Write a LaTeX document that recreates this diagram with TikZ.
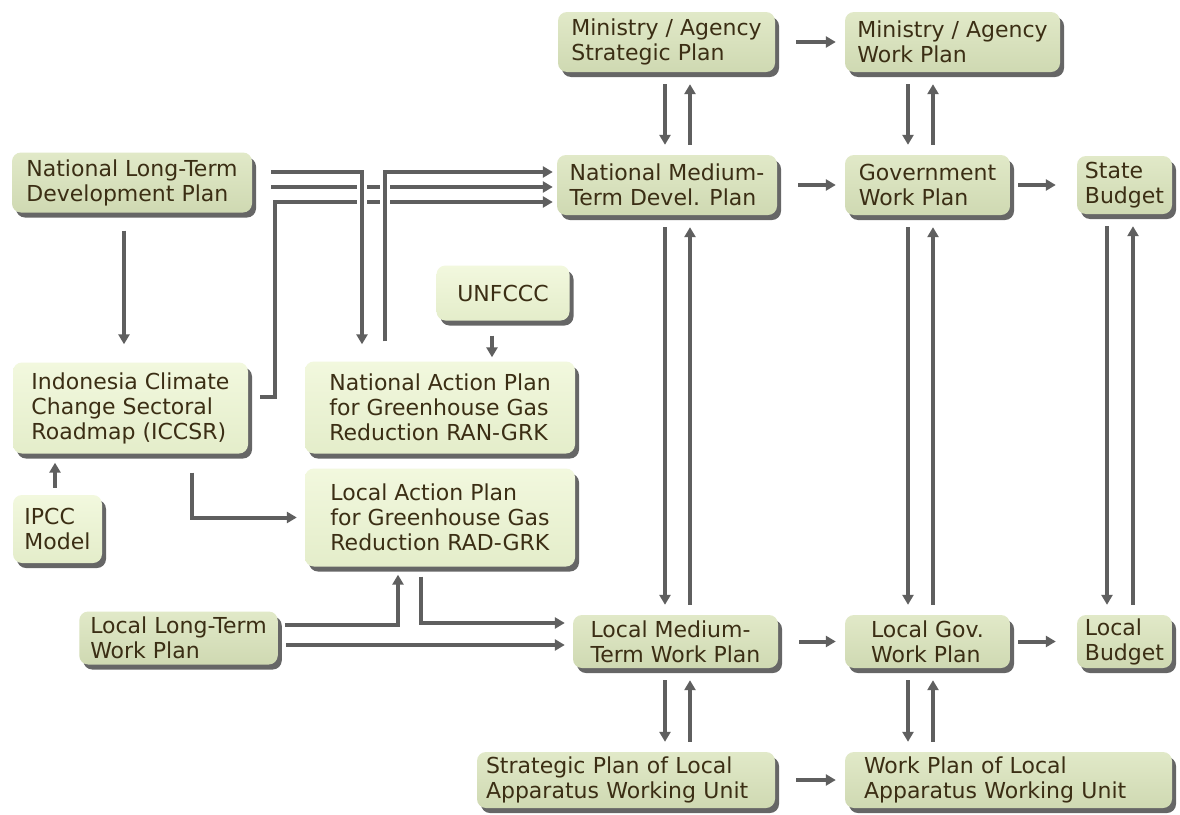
\documentclass[tikz,border=0pt]{standalone}
\usepackage{fontspec}
\setmainfont{DejaVu Sans}
\usepackage{xcolor}
\usetikzlibrary{arrows.meta,shadows}

\definecolor{boxtop}{HTML}{E1E9C8}
\definecolor{boxbot}{HTML}{CFD9B2}
\definecolor{lbtop}{HTML}{F2F8DE}
\definecolor{lbbot}{HTML}{E4EDCA}
\definecolor{ink}{HTML}{3B2E14}
\definecolor{arrowgray}{HTML}{5F5F5F}

\begin{document}
\begin{tikzpicture}[
  x=1pt, y=-1pt,
  box/.style={rounded corners=9pt, top color=boxtop, bottom color=boxbot, align=left, text=ink, inner xsep=11pt, font=\fontsize{22}{25}\selectfont, drop shadow={shadow xshift=4pt, shadow yshift=-5pt, fill=black!70, opacity=.85}},
  lbox/.style={box, top color=lbtop, bottom color=lbbot},
  arrow/.style={-{Triangle[length=10pt,width=11pt]}, line width=4pt, draw=arrowgray},
  bridge/.style={arrow, preaction={draw=white, line width=10pt, arrows=-}}
]
\fill[white] (0,0) rectangle (1180,814);
\useasboundingbox (0,0) rectangle (1180,814);

% national level
\node[box, minimum width=217pt, minimum height=60pt] (msp) at (666.5,42) {Ministry / Agency\\Strategic Plan};
\node[box, minimum width=215pt, minimum height=60pt] (mwp) at (952.5,42) {Ministry / Agency\\Work Plan};
\node[box, minimum width=220pt, minimum height=60pt] (nmtdp) at (667,185) {National Medium-\\Term Devel. Plan};
\node[box, minimum width=165pt, minimum height=60pt] (gwp) at (927.5,185) {Government\\Work Plan};
\node[box, inner xsep=7pt, minimum width=95pt, minimum height=58pt] (state) at (1124.5,185) {State\\Budget};
\node[box, minimum width=240pt, minimum height=60pt] (nltdp) at (132,182.5) {National Long-Term\\Development Plan};

% climate plans
\node[lbox, minimum width=133pt, minimum height=55pt] (unfccc) at (503,293) {UNFCCC};
\node[lbox, minimum width=235pt, minimum height=91pt] (iccsr) at (130.5,408) {Indonesia Climate\\Change Sectoral\\Roadmap (ICCSR)};
\node[lbox, minimum width=270pt, minimum height=92pt] (ran) at (440,407.5) {National Action Plan\\for Greenhouse Gas\\Reduction RAN-GRK};
\node[lbox, minimum width=270pt, minimum height=98pt] (rad) at (440,517.5) {Local Action Plan\\for Greenhouse Gas\\Reduction RAD-GRK};
\node[lbox, inner xsep=9pt, minimum width=89pt, minimum height=68pt] (ipcc) at (57.5,529) {IPCC\\Model};

% local level
\node[box, minimum width=197pt, minimum height=53pt] (lltwp) at (178.5,638) {Local Long-Term\\Work Plan};
\node[box, minimum width=205pt, minimum height=53pt] (lmtwp) at (675.5,641.5) {Local Medium-\\Term Work Plan};
\node[box, minimum width=165pt, minimum height=53pt] (lgwp) at (927.5,641.5) {Local Gov.\\Work Plan};
\node[box, inner xsep=7pt, minimum width=95pt, minimum height=53pt] (lbud) at (1124.5,641.5) {Local\\Budget};
\node[box, inner xsep=9pt, text width=280pt, minimum height=56pt] (spl) at (626,780) {Strategic Plan of Local\\Apparatus Working Unit};
\node[box, inner xsep=19pt, text width=289pt, minimum height=56pt] (wpl) at (1008.5,780) {Work Plan of Local\\Apparatus Working Unit};

% up and down between levels
\foreach \t/\b/\xd/\xu in {msp/nmtdp/665/690, nmtdp/lmtwp/665/690, lmtwp/spl/665/690, mwp/gwp/908/933, gwp/lgwp/908/933, lgwp/wpl/908/933, state/lbud/1107/1133} {
  \draw[arrow, shorten <=12pt, shorten >=10pt] (\t.south -| \xd,0) -- (\b.north -| \xd,0);
  \draw[arrow, shorten <=10pt, shorten >=12pt] (\b.north -| \xu,0) -- (\t.south -| \xu,0);
}
\foreach \a/\b in {msp/mwp, nmtdp/gwp, lmtwp/lgwp, spl/wpl}
  \draw[arrow, shorten <=21pt, shorten >=9pt] (\a.east) -- (\b.west);
\foreach \a/\b in {gwp/state, lgwp/lbud}
  \draw[arrow, shorten <=8pt, shorten >=21pt] (\a.east) -- (\b.west);

% left side
\draw[arrow, shorten <=18pt, shorten >=18pt] ([xshift=-8pt]nltdp.south) -- ([xshift=-8pt]nltdp.south |- iccsr.north);
\draw[arrow, shorten <=7pt, shorten >=9pt] ([xshift=-2.5pt]ipcc.north) -- ([xshift=-2.5pt]ipcc.north |- iccsr.south);
\draw[arrow, shorten <=15pt, shorten >=4pt] ([xshift=-11pt]unfccc.south) -- ([xshift=-11pt]unfccc.south |- ran.north);
\draw[arrow, shorten <=19pt, shorten >=8pt] ([xshift=61.5pt]iccsr.south) |- (rad.west);
\draw[arrow, shorten <=7pt, shorten >=8pt] ([yshift=13pt]lltwp.east) -| ([xshift=-42pt]rad.south);
\draw[arrow, shorten <=10pt, shorten >=8pt] ([xshift=-19pt]rad.south) |- ([yshift=18.5pt]lmtwp.west);
\draw[arrow, shorten <=8pt, shorten >=8pt] ([yshift=-7pt]lltwp.east) -- ([yshift=-7pt]lltwp.east -| lmtwp.west);

% lines into the medium-term plan
\draw[arrow, shorten <=19pt, shorten >=4pt] ([yshift=-4.5pt]nltdp.east) -- ([yshift=-4.5pt]nltdp.east -| nmtdp.west);
\draw[arrow, shorten <=12pt, shorten >=4pt] ([yshift=11pt]iccsr.east) -- ++(27,0) |- ([yshift=-17pt]nmtdp.west);
\draw[bridge, shorten <=19pt, shorten >=17pt] ([yshift=10.5pt]nltdp.east) -| ([xshift=-78pt]ran.north);
\draw[bridge, shorten <=20pt, shorten >=4pt] ([xshift=-55pt]ran.north) |- ([yshift=13pt]nmtdp.west);
\end{tikzpicture}
\end{document}
